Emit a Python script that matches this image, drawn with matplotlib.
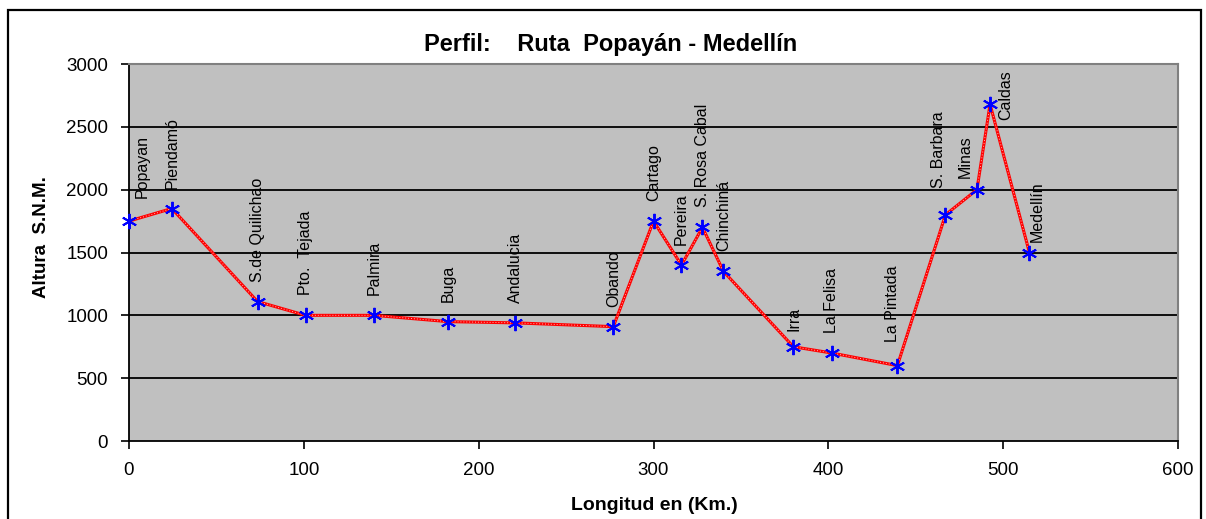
import matplotlib
matplotlib.use("Agg")
import matplotlib.pyplot as plt
from matplotlib.patches import Rectangle

plt.rcParams["font.family"] = ["Liberation Sans", "DejaVu Sans"]

# Datos del perfil (km, metros sobre el nivel del mar)
lugares = ["Popayan", "Piendamó", "S.de Quilichao", "Pto.  Tejada", "Palmira", "Buga",
           "Andalucia", "Obando", "Cartago", "Pereira", "S. Rosa Cabal", "Chinchiná",
           "Irra", "La Felisa", "La Pintada", "S. Barbara", "Minas", "Caldas", "Medellín"]
km = [0, 24.5, 73.5, 101, 140, 182.5, 221, 277, 300, 316, 328, 340,
      380, 402, 439.5, 467, 485, 492.5, 515]
altura = [1750, 1850, 1110, 1000, 1000, 950, 940, 910, 1750, 1400, 1700, 1350,
          750, 700, 600, 1800, 2000, 2680, 1500]

# desplazamiento de etiquetas en pixeles (dx, dy); por defecto encima del punto
offsets = {"Popayan": (13, 23), "S. Barbara": (-7, 27), "Minas": (-12, 12),
           "Medellín": (8, 11), "La Pintada": (-5, 24), "Irra": (1, 16)}

fig = plt.figure(figsize=(12.06, 5.19), dpi=100)
ax = fig.add_axes([129 / 1206, 78 / 519, (1178 - 129) / 1206, (441 - 64) / 519])
ax.set_facecolor("#c0c0c0")

ax.set_xlim(0, 600)
ax.set_ylim(0, 3000)
ax.set_xticks(range(0, 601, 100))
ax.set_yticks(range(0, 3001, 500))
for y in range(500, 3000, 500):
    ax.axhline(y, color="black", lw=1.3, zorder=1)

ax.plot(km, altura, color="red", lw=2.2, zorder=2)
ax.plot(km, altura, color="#ffb0b0", lw=0.7, ls=(0, (1, 2)), zorder=3)
ax.plot(km, altura, ls="none", marker=(6, 2, 0), ms=11, mec="blue", mew=1.4,
        zorder=4, clip_on=False)

px = 72 / 100
for nombre, x, y in zip(lugares, km, altura):
    if nombre == "Caldas":
        ax.annotate(nombre, (x, y), xytext=(16 * px, 9 * px), textcoords="offset points",
                    rotation=90, ha="center", va="center", fontsize=11.5)
        continue
    dx, dy = offsets.get(nombre, (0, 20))
    ax.annotate(nombre, (x, y), xytext=(dx * px, dy * px), textcoords="offset points",
                rotation=90, ha="center", va="bottom", fontsize=11.5)

for s in ["top", "right"]:
    ax.spines[s].set_color("#808080")
    ax.spines[s].set_linewidth(1.5)
for s in ["left", "bottom"]:
    ax.spines[s].set_color("black")
    ax.spines[s].set_linewidth(1.3)
ax.tick_params(direction="out", length=6, width=1.2, labelsize=13.5, color="black")
ax.tick_params(axis="y", pad=9)
ax.tick_params(axis="x", pad=9)

fig.text(0.506, 1 - 45 / 519, "Perfil:    Ruta  Popayán - Medellín", ha="center", va="center",
         fontsize=17, fontweight="bold")
fig.text(42 / 1206, 1 - 237 / 519, "Altura  S.N.M.", rotation=90, ha="center", va="center",
         fontsize=13.5, fontweight="bold")
fig.text(654 / 1206, 1 - 505 / 519, "Longitud en (Km.)", ha="center", va="center",
         fontsize=14, fontweight="bold")

fig.patches.append(Rectangle((8 / 1206, -0.02), (1201 - 8) / 1206, 1.02 - 10 / 519,
                             transform=fig.transFigure, fill=False, edgecolor="black",
                             lw=1.6, zorder=10))

fig.savefig("out.png", dpi=100)
